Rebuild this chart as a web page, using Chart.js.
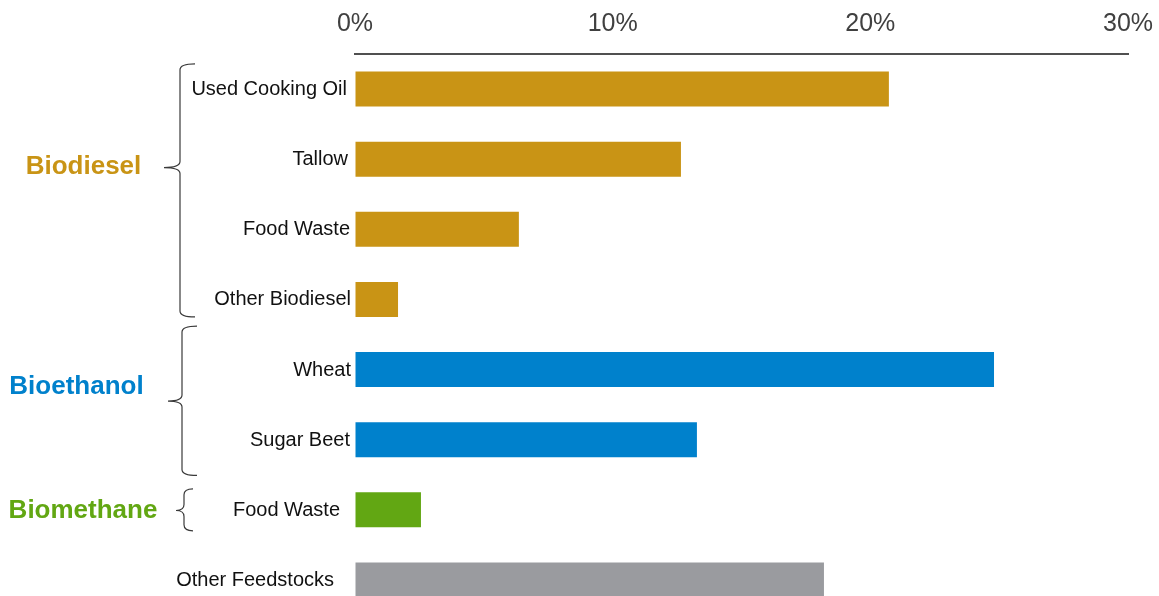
<!DOCTYPE html>
<html>
<head>
<meta charset="utf-8">
<script src="https://cdn.jsdelivr.net/npm/chart.js@4.4.1/dist/chart.umd.min.js"></script>
<style>
  html, body { margin: 0; padding: 0; background: #ffffff; overflow: hidden; }
  #wrap { position: relative; width: 1159px; height: 615px; }
</style>
</head>
<body>
<div id="wrap"><canvas id="c"></canvas></div>
<script>
// ---- data ----
const categories = ["Used Cooking Oil", "Tallow", "Food Waste", "Other Biodiesel", "Wheat", "Sugar Beet", "Food Waste", "Other Feedstocks"];
const shares = [20.72, 12.65, 6.36, 1.67, 24.8, 13.27, 2.56, 18.2];
const xTickValues = [0, 10, 20, 30];
const groupNames = ["Biodiesel", "Bioethanol", "Biomethane"];
const groupFirst = [0, 4, 6];
const groupLast = [3, 5, 6];

// ---- styles ----
const barColors = ["#C99415", "#C99415", "#C99415", "#C99415", "#0081CC", "#0081CC", "#62A713", "#9A9B9F"];
const groupColors = ["#C99415", "#0081CC", "#62A713"];
const FONT = "'Liberation Sans', Arial, Helvetica, sans-serif";

// layout of annotations (category units relative to group indices, px for x)
const groupLayout = [
  { top: -0.36, bottom: 0.25, tip: 1.12, labelY: 1.08, xv: 180, xr: 195, xt: 164, labelX: 83.5 },
  { top: -0.62, bottom: 0.51, tip: 0.45, labelY: 0.22, xv: 182, xr: 197, xt: 168, labelX: 76.5 },
  { top: -0.30, bottom: 0.30, tip: 0.01, labelY: -0.01, xv: 184, xr: 193, xt: 176, labelX: 83 }
];
const labelRight = [347, 348, 350, 351, 351, 350, 340, 334];

const annotate = {
  id: 'annotate',
  afterDraw(chart) {
    const ctx = chart.ctx;
    const y = chart.scales.y;
    ctx.save();
    // category labels
    ctx.font = "20px " + FONT;
    ctx.fillStyle = "#111111";
    ctx.textAlign = "right";
    ctx.textBaseline = "middle";
    categories.forEach((c, i) => {
      ctx.fillText(c, labelRight[i], y.getPixelForValue(i) + 0.5);
    });
    // braces + group labels
    groupNames.forEach((g, k) => {
      const L = groupLayout[k];
      const top = y.getPixelForValue(groupFirst[k] + L.top);
      const bot = y.getPixelForValue(groupLast[k] + L.bottom);
      const tip = y.getPixelForValue(groupFirst[k] + L.tip);
      const r = Math.min(6, (bot - top) / 6);
      ctx.strokeStyle = "#3a3a3a";
      ctx.lineWidth = 1.2;
      ctx.beginPath();
      ctx.moveTo(L.xr, top);
      ctx.quadraticCurveTo(L.xv, top, L.xv, top + r);
      ctx.lineTo(L.xv, tip - r);
      ctx.quadraticCurveTo(L.xv, tip, L.xt, tip);
      ctx.quadraticCurveTo(L.xv, tip, L.xv, tip + r);
      ctx.lineTo(L.xv, bot - r);
      ctx.quadraticCurveTo(L.xv, bot, L.xr, bot);
      ctx.stroke();
      ctx.font = "bold 26px " + FONT;
      ctx.fillStyle = groupColors[k];
      ctx.textAlign = "center";
      ctx.textBaseline = "middle";
      ctx.fillText(g, L.labelX, y.getPixelForValue(groupFirst[k] + L.labelY) + 2);
    });
    ctx.restore();
  }
};

new Chart(document.getElementById('c'), {
  type: 'bar',
  data: {
    labels: categories,
    datasets: [{
      data: shares,
      backgroundColor: barColors,
      borderWidth: 0,
      barPercentage: 0.5,
      categoryPercentage: 1.0
    }]
  },
  options: {
    indexAxis: 'y',
    responsive: true,
    maintainAspectRatio: false,
    animation: false,
    devicePixelRatio: 1,
    layout: { padding: { left: 355, right: 31, top: 0, bottom: 0 } },
    plugins: { legend: { display: false }, tooltip: { enabled: false } },
    scales: {
      x: {
        position: 'top',
        min: 0,
        max: 30,
        afterBuildTicks(scale) { scale.ticks = xTickValues.map(v => ({ value: v })); },
        afterFit(scale) { scale.height = 54; scale.paddingRight = 0; scale.paddingLeft = 0; },
        ticks: {
          callback: v => v + '%',
          color: '#404040',
          font: { family: FONT, size: 25 },
          padding: 15,
          maxRotation: 0,
          autoSkip: false
        },
        grid: { display: true, drawOnChartArea: false, drawTicks: false, color: 'rgba(0,0,0,0)' },
        border: { display: true, color: '#505050', width: 2 }
      },
      y: {
        display: false,
        offset: true
      }
    }
  },
  plugins: [annotate]
});
</script>
</body>
</html>
